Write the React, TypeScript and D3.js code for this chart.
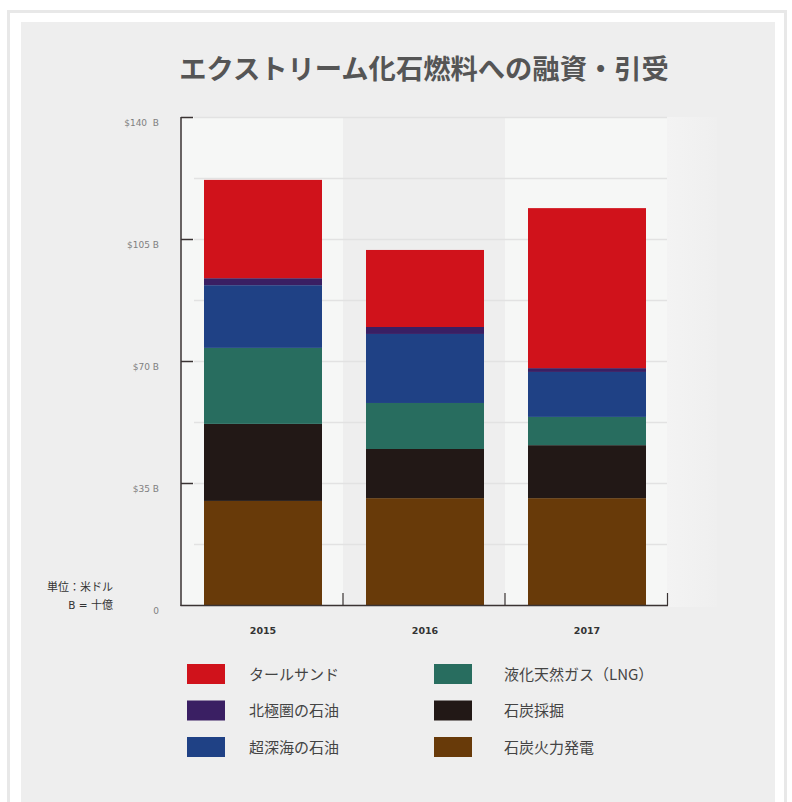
import React from "react";
import * as d3 from "d3";

const years = ["2015", "2016", "2017"];
const seriesKeys = ["coalPower", "coalMining", "lng", "ultraDeep", "arctic", "tarSands"];
const seriesLabels = ["石炭火力発電", "石炭採掘", "液化天然ガス（LNG）", "超深海の石油", "北極圏の石油", "タールサンド"];
const seriesColors = ["#683a09", "#221816", "#286d5f", "#1f4185", "#3a1f63", "#d0121b"];
const coalPower = [30.0, 30.8, 30.8];
const coalMining = [22.1, 14.1, 15.2];
const lng = [21.8, 13.2, 8.1];
const ultraDeep = [18.0, 19.8, 12.9];
const arctic = [2.0, 2.0, 1.1];
const tarSands = [28.2, 22.1, 45.9];
const yTicks = [0, 35, 70, 105, 140];
const yTickLabels = ["0", "$35 B", "$70 B", "$105 B", "$140  B"];
const gridValues = [17.5, 35, 52.5, 70, 87.5, 105, 122.5, 140];
const legendOrder = ["tarSands", "arctic", "ultraDeep", "lng", "coalMining", "coalPower"];

const W = 792;
const H = 802;

export default function App() {
  const data = years.map((y, i) => ({
    year: y,
    coalPower: coalPower[i],
    coalMining: coalMining[i],
    lng: lng[i],
    ultraDeep: ultraDeep[i],
    arctic: arctic[i],
    tarSands: tarSands[i],
  }));
  const stack = d3.stack<any>().keys(seriesKeys)(data as any);

  const x = d3.scaleBand<string>().domain(years).range([181, 667]).paddingInner(0).paddingOuter(0);
  const y = d3.scaleLinear().domain([0, 140]).range([605.5, 117.5]);
  const barW = 118;
  const barShift = 1;

  const jp = "'Noto Sans CJK JP', 'Noto Sans', sans-serif";
  const latin = "'DejaVu Sans', 'Noto Sans', sans-serif";

  return (
    <svg width={W} height={H} style={{ position: "absolute", left: 0, top: 0, display: "block" }}>
      <defs>
        <linearGradient id="rightShade" x1="0" x2="1" y1="0" y2="0">
          <stop offset="0" stopColor="#f3f3f3" />
          <stop offset="1" stopColor="#efefef" />
        </linearGradient>
      </defs>
      <rect x={0} y={0} width={W} height={H} fill="#ffffff" />
      <rect x={8.5} y={11.5} width={777} height={800} fill="#ffffff" stroke="#e8e8e8" strokeWidth={3} />
      <rect x={21} y={22} width={754} height={780} fill="#eeeeee" />
      <rect x={667} y={117} width={50} height={490} fill="url(#rightShade)" />

      <text x={424} y={79} textAnchor="middle" fontFamily={jp} fontWeight={700} fontSize={27.3} fill="#555555">
        エクストリーム化石燃料への融資・引受
      </text>

      {years.map((yr, i) => (
        <rect
          key={yr}
          x={x(yr)}
          y={117.5}
          width={x.bandwidth()}
          height={488}
          fill={i % 2 === 0 ? "#f6f7f6" : "#eeeeee"}
        />
      ))}

      {gridValues.map((v) => (
        <line key={v} x1={194} x2={667} y1={y(v)} y2={y(v)} stroke="#e2e2e2" strokeWidth={1.5} />
      ))}

      {stack.map((s, si) =>
        s.map((d, i) => (
          <rect
            key={seriesKeys[si] + i}
            x={(x(years[i]) as number) + x.bandwidth() / 2 - barW / 2 + barShift}
            y={y(d[1])}
            width={barW}
            height={y(d[0]) - y(d[1])}
            fill={seriesColors[si]}
          />
        ))
      )}

      <line x1={181} x2={181} y1={117} y2={606} stroke="#3a3333" strokeWidth={1.5} />
      <line x1={180.5} x2={668} y1={605.5} y2={605.5} stroke="#3a3333" strokeWidth={1.5} />
      {yTicks.filter((v) => v > 0).map((v) => (
        <line key={v} x1={181} x2={193} y1={y(v)} y2={y(v)} stroke="#3a3333" strokeWidth={1.5} />
      ))}
      {[...years.slice(1).map((yr) => x(yr) as number), 667.5].map((px, i) => (
        <line key={i} x1={px} x2={px} y1={593} y2={605.5} stroke="#3a3333" strokeWidth={1.2} />
      ))}

      {yTicks.map((v, i) => (
        <text
          key={v}
          x={159}
          y={y(v) + 8.5}
          textAnchor="end"
          fontFamily={latin}
          fontSize={9}
          fill="#808080"
          style={{ whiteSpace: "pre" }}
        >
          {yTickLabels[i]}
        </text>
      ))}

      <text x={113} y={591} textAnchor="end" fontFamily={jp} fontSize={11} fill="#333333">
        単位：米ドル
      </text>
      <text x={113} y={609} textAnchor="end" fontFamily={jp} fontSize={11} fill="#333333" style={{ whiteSpace: "pre" }}>
        <tspan fontFamily={latin} fontSize={10.5}>{"B = "}</tspan>
        <tspan>十億</tspan>
      </text>

      {years.map((yr) => (
        <text
          key={yr}
          x={(x(yr) as number) + x.bandwidth() / 2 + barShift}
          y={634}
          textAnchor="middle"
          fontFamily={latin}
          fontWeight={700}
          fontSize={9.5}
          fill="#333333"
        >
          {yr}
        </text>
      ))}

      {legendOrder.map((k, i) => {
        const si = seriesKeys.indexOf(k);
        const col = Math.floor(i / 3);
        const row = i % 3;
        const lx = col === 0 ? 187 : 434;
        const tx = col === 0 ? 249 : 504;
        const ly = 664 + row * 36.5;
        return (
          <g key={k}>
            <rect x={lx} y={ly} width={38} height={20} fill={seriesColors[si]} />
            <text x={tx} y={ly + 15.5} fontFamily={jp} fontSize={15} fill="#444444">
              {seriesLabels[si]}
            </text>
          </g>
        );
      })}
    </svg>
  );
}
